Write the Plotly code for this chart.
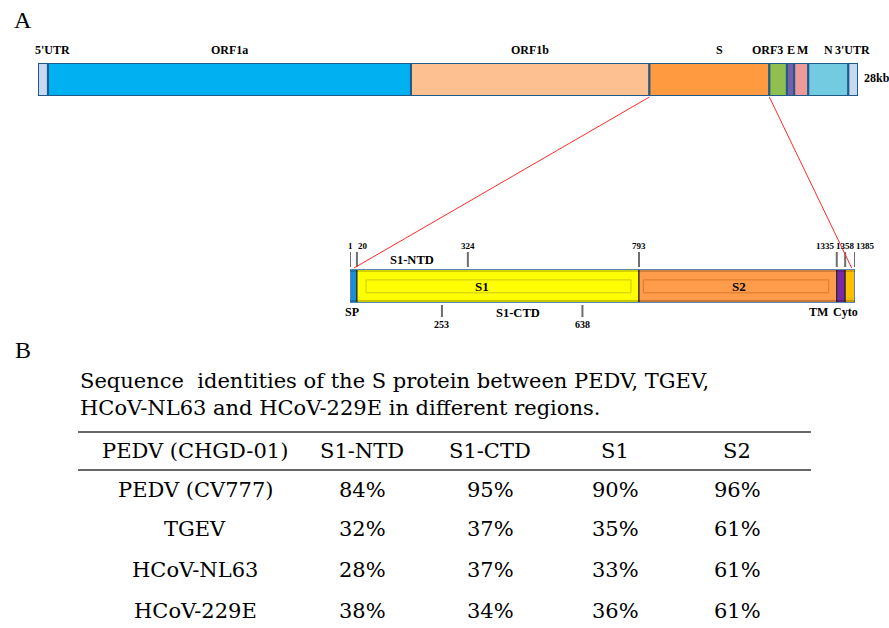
import plotly.graph_objects as go

W, H = 889, 628

# ---------------- data ----------------
GENOME_KB = 28.03
genome_segments = ["5'UTR", "ORF1a", "ORF1b", "S", "ORF3", "E", "M", "N", "3'UTR"]
genome_start_kb = [0.0, 0.34, 12.75, 20.90, 25.00, 25.60, 25.85, 26.33, 27.70]
genome_end_kb = [0.34, 12.75, 20.90, 25.00, 25.60, 25.85, 26.33, 27.70, 28.03]
genome_colors = ["#c6d9f0", "#00b0f0", "#fdc091", "#ff9a40", "#8fbf4f",
                 "#7560a8", "#ef9a9a", "#72cbe0", "#c6d9f0"]
genome_label_shift_kb = [0.31, 0, 0, 0.33, -0.35, 0, 0.05, 0, -0.04]

S_LEN = 1385
s_domains = ["SP", "S1", "S2", "TM", "Cyto"]
s_start_aa = [1, 20, 793, 1335, 1358]
s_end_aa = [20, 793, 1335, 1358, 1385]
s_colors = ["#1b8fd6", "#ffff00", "#ff9c4c", "#7a2aa2", "#ffc000"]
ticks_above_aa = [1, 20, 324, 793, 1335, 1358, 1385]
ticks_below_aa = [253, 638]
s1_ntd_aa = [20, 324]
s1_ctd_aa = [253, 638]

table_title = ["Sequence  identities of the S protein between PEDV, TGEV,",
               "HCoV-NL63 and HCoV-229E in different regions."]
table_header = ["PEDV (CHGD-01)", "S1-NTD", "S1-CTD", "S1", "S2"]
strains = ["PEDV (CV777)", "TGEV", "HCoV-NL63", "HCoV-229E"]
s1_ntd_identity = [84, 32, 28, 38]
s1_ctd_identity = [95, 37, 37, 34]
s1_identity = [90, 35, 33, 36]
s2_identity = [96, 61, 61, 61]

# ---------------- geometry (pixels) ----------------
GX0, GX1, GY0, GY1 = 38, 858, 63, 96
SX0, SX1, SY0, SY1 = 350, 855, 269, 303


def fx(p):
    return p / W


def fy(p):
    return 1 - p / H


def kb_paper(kb):
    return fx(GX0 + kb / GENOME_KB * (GX1 - GX0))


def aa_paper(aa):
    return fx(SX0 + (aa - 1) / (S_LEN - 1) * (SX1 - SX0))


LAB = "Liberation Serif, Times New Roman, serif"
TAB = "DejaVu Serif, serif"
TAB_SIZE = 21

fig = go.Figure()

fig.add_trace(go.Bar(
    orientation="h", y=[0] * len(genome_segments),
    x=[e - s for s, e in zip(genome_start_kb, genome_end_kb)],
    base=genome_start_kb, width=1, name="genome",
    marker=dict(color=genome_colors, line=dict(color="#1f5a8a", width=2)),
    xaxis="x", yaxis="y", cliponaxis=False, hoverinfo="skip", showlegend=False))

fig.add_trace(go.Bar(
    orientation="h", y=[0] * len(s_domains),
    x=[e - s for s, e in zip(s_start_aa, s_end_aa)],
    base=s_start_aa, width=1, name="S protein",
    marker=dict(color=s_colors, line=dict(color="#2b2b2b", width=1.2)),
    xaxis="x2", yaxis="y2", cliponaxis=False, hoverinfo="skip", showlegend=False))

shapes = []
annots = []

# outer border of S protein bar
shapes.append(dict(type="rect", xref="x2", yref="y2", x0=1, x1=S_LEN, y0=-0.5, y1=0.5,
                   line=dict(color="#5f87ae", width=2), fillcolor="rgba(0,0,0,0)"))
# bevel-like inner frames
shapes.append(dict(type="rect", xref="x2", yref="y2", x0=s_start_aa[1] + 25, x1=s_end_aa[1] - 22,
                   y0=-0.2, y1=0.18, line=dict(color="#c9c81a", width=1)))
shapes.append(dict(type="rect", xref="x2", yref="y2", x0=s_start_aa[2] + 12, x1=s_end_aa[2] - 22,
                   y0=-0.2, y1=0.18, line=dict(color="#d97a2e", width=1)))
for i in range(len(s_domains)):
    shapes.append(dict(type="line", xref="x2", yref="y2", x0=s_start_aa[i], x1=s_end_aa[i],
                       y0=0.44, y1=0.44, line=dict(color="rgba(0,0,0,0.18)", width=2)))
    shapes.append(dict(type="line", xref="x2", yref="y2", x0=s_start_aa[i], x1=s_end_aa[i],
                       y0=-0.44, y1=-0.44, line=dict(color="rgba(0,0,0,0.22)", width=2)))

# tick marks
for aa in ticks_above_aa:
    shapes.append(dict(type="line", xref="x2", yref="paper", x0=aa, x1=aa, y0=fy(252), y1=fy(267),
                       line=dict(color="#6e6e6e", width=2)))
for aa in ticks_below_aa:
    shapes.append(dict(type="line", xref="x2", yref="paper", x0=aa, x1=aa, y0=fy(305), y1=fy(317),
                       line=dict(color="#6e6e6e", width=2)))

# red zoom connectors from the S gene to the S protein
s_gene = genome_segments.index("S")
shapes.append(dict(type="line", xref="paper", yref="paper",
                   x0=kb_paper(genome_start_kb[s_gene]), y0=fy(GY1 + 1),
                   x1=aa_paper(12), y1=fy(SY0 - 1), line=dict(color="#ff2a2a", width=1)))
shapes.append(dict(type="line", xref="paper", yref="paper",
                   x0=kb_paper(genome_end_kb[s_gene]), y0=fy(GY1 + 1),
                   x1=aa_paper(1376), y1=fy(SY0 - 1), line=dict(color="#ff2a2a", width=1)))

# genome labels
for name, s, e, sh in zip(genome_segments, genome_start_kb, genome_end_kb, genome_label_shift_kb):
    annots.append(dict(x=(s + e) / 2 + sh, y=fy(50), xref="x", yref="paper", text="<b>%s</b>" % name,
                       showarrow=False, xanchor="center", yanchor="middle",
                       font=dict(family=LAB, size=12, color="black")))
annots.append(dict(x=fx(862), y=fy(78), xref="paper", yref="paper", text="<b>28kb</b>",
                   showarrow=False, xanchor="left", yanchor="middle",
                   font=dict(family=LAB, size=12, color="black")))

# S protein tick labels
anchors = {1: "center", 20: "left", 324: "center", 793: "center",
           1335: "right", 1358: "center", 1385: "left"}
shift = {1: 0, 20: -3, 324: 0, 793: 0, 1335: 1, 1358: 0, 1385: -3}
for aa in ticks_above_aa:
    annots.append(dict(x=aa_paper(aa + shift[aa]), y=fy(246), xref="paper", yref="paper",
                       text="<b>%d</b>" % aa, showarrow=False, xanchor=anchors[aa], yanchor="middle",
                       font=dict(family=LAB, size=9, color="black")))
for aa in ticks_below_aa:
    annots.append(dict(x=aa_paper(aa), y=fy(324), xref="paper", yref="paper", text="<b>%d</b>" % aa,
                       showarrow=False, xanchor="center", yanchor="middle",
                       font=dict(family=LAB, size=10, color="black")))

annots.append(dict(x=aa_paper(sum(s1_ntd_aa) / 2), y=fy(260), xref="paper", yref="paper",
                   text="<b>S1-NTD</b>", showarrow=False,
                   font=dict(family=LAB, size=12.5, color="black")))
annots.append(dict(x=aa_paper(sum(s1_ctd_aa) / 2 + 15), y=fy(313), xref="paper", yref="paper",
                   text="<b>S1-CTD</b>", showarrow=False,
                   font=dict(family=LAB, size=12.5, color="black")))

inside_pos = {"S1": 362, "S2": 1091}
for name, aa in inside_pos.items():
    annots.append(dict(x=aa_paper(aa), y=fy((SY0 + SY1) / 2), xref="paper", yref="paper",
                       text="<b>%s</b>" % name, showarrow=False,
                       font=dict(family=LAB, size=13, color="black")))
below_pos = {"SP": 6, "TM": 1317, "Cyto": 1399}
for name, aa in below_pos.items():
    annots.append(dict(x=aa_paper(aa), y=fy(312), xref="paper", yref="paper", text="<b>%s</b>" % name,
                       showarrow=False, font=dict(family=LAB, size=12, color="black")))

# panel letters
annots.append(dict(x=fx(12), y=fy(20), xref="paper", yref="paper", text="A", showarrow=False,
                   xanchor="left", yanchor="middle", font=dict(family=LAB, size=24, color="black")))
annots.append(dict(x=fx(13), y=fy(350), xref="paper", yref="paper", text="B", showarrow=False,
                   xanchor="left", yanchor="middle", font=dict(family=LAB, size=24, color="black")))

# ---------------- table ----------------
for line, yy in zip(table_title, [381, 408]):
    annots.append(dict(x=fx(78), y=fy(yy), xref="paper", yref="paper", text=line, showarrow=False,
                       xanchor="left", yanchor="middle",
                       font=dict(family=TAB, size=TAB_SIZE, color="black")))

for yy in (432, 470):
    shapes.append(dict(type="line", xref="paper", yref="paper", x0=fx(78), x1=fx(811),
                       y0=fy(yy), y1=fy(yy), line=dict(color="#3d3636", width=1.5)))

col_x = [195, 362, 490, 615, 737]
for txt, cx in zip(table_header, col_x):
    annots.append(dict(x=fx(cx), y=fy(451), xref="paper", yref="paper", text=txt, showarrow=False,
                       xanchor="center", yanchor="middle",
                       font=dict(family=TAB, size=TAB_SIZE, color="black")))

row_y = [490, 529, 570, 611]
columns = [s1_ntd_identity, s1_ctd_identity, s1_identity, s2_identity]
for i, (strain, ry) in enumerate(zip(strains, row_y)):
    annots.append(dict(x=fx(col_x[0]), y=fy(ry), xref="paper", yref="paper", text=strain,
                       showarrow=False, xanchor="center", yanchor="middle",
                       font=dict(family=TAB, size=TAB_SIZE, color="black")))
    for vals, cx in zip(columns, col_x[1:]):
        annots.append(dict(x=fx(cx), y=fy(ry), xref="paper", yref="paper", text="%d%%" % vals[i],
                           showarrow=False, xanchor="center", yanchor="middle",
                           font=dict(family=TAB, size=TAB_SIZE, color="black")))

hidden = dict(visible=False, showgrid=False, zeroline=False, fixedrange=True)
fig.update_layout(
    width=W, height=H, margin=dict(l=0, r=0, t=0, b=0),
    paper_bgcolor="white", plot_bgcolor="white", barmode="overlay", showlegend=False,
    xaxis=dict(domain=[fx(GX0), fx(GX1)], range=[0, GENOME_KB], anchor="y", **hidden),
    yaxis=dict(domain=[fy(GY1), fy(GY0)], range=[-0.5, 0.5], anchor="x", **hidden),
    xaxis2=dict(domain=[fx(SX0), fx(SX1)], range=[1, S_LEN], anchor="y2", **hidden),
    yaxis2=dict(domain=[fy(SY1), fy(SY0)], range=[-0.5, 0.5], anchor="x2", **hidden),
    shapes=shapes, annotations=annots,
)

fig.write_html("out.html", config={"displayModeBar": False},
               post_script="document.body.style.margin='0px';document.body.style.overflow='hidden';")
